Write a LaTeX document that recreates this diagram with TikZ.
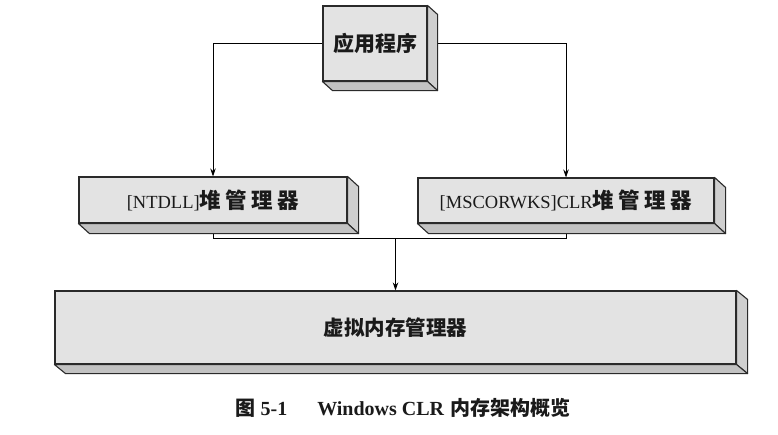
\documentclass[tikz,border=0pt]{standalone}
\usepackage{fontspec}
\setmainfont{Liberation Serif}
\newfontfamily\cjk{Noto Sans CJK SC}
\usetikzlibrary{arrows.meta}
\definecolor{edge}{HTML}{2A2A2A}
\definecolor{facecol}{HTML}{E3E3E3}
\definecolor{sidecol}{HTML}{CFCFCF}
\definecolor{botcol}{HTML}{C2C2C2}
\definecolor{txt}{HTML}{1A1A1A}
\newcommand\ks{\hspace{4.5pt}}
\newcommand\hz[1]{{\cjk\bfseries #1}}
\newcommand\boxsides[3]{%
  \filldraw[sideface] (#1.north east) -- ++(#2,#3) -- ([shift={(#2,#3)}]#1.south east) -- (#1.south east) -- cycle;
  \filldraw[bottomface] (#1.south west) -- ++(#2,#3) -- ([shift={(#2,#3)}]#1.south east) -- (#1.south east) -- cycle;
}
\tikzset{
  face/.style={draw=edge, fill=facecol, line width=1.1pt, inner sep=0pt, text=txt},
  sideface/.style={draw=edge, fill=sidecol, line width=1.1pt, line join=round},
  bottomface/.style={draw=edge, fill=botcol, line width=1.1pt, line join=round},
  conn/.style={draw=black, line width=0.9pt},
  arr/.style={conn, -{Stealth[length=8pt,width=5.5pt]}},
}
\begin{document}
\begin{tikzpicture}[x=1pt,y=-1pt]
\useasboundingbox (0,0) rectangle (778,434);
\fill[white] (0,0) rectangle (778,434);
% nodes (front faces)
\node[face, minimum width=104pt, minimum height=75pt, font=\fontsize{21}{24}\selectfont] (app) at (375,43.5) {\hz{应用程序}};
\node[face, minimum width=268pt, minimum height=46pt, font=\fontsize{18.5}{22}\selectfont] (ntdll) at (213,200) {[NTDLL]\hz{\fontsize{21.5}{24}\selectfont 堆\ks 管\ks 理\ks 器}};
\node[face, minimum width=296pt, minimum height=45pt, font=\fontsize{18.5}{22}\selectfont] (clr) at (566,200.5) {[MSCORWKS]CLR\hz{\fontsize{21.5}{24}\selectfont 堆\ks 管\ks 理\ks 器}};
\node[face, minimum width=681pt, minimum height=73pt, font=\fontsize{20.5}{24}\selectfont] (vm) at (395.5,327.5) {\hz{虚拟内存管理器}};
\path (vm.north) ++(0,-52) coordinate (j);
% connectors (drawn below the 3D faces)
\draw[arr] (app.west) -| (ntdll.north);
\draw[arr] (app.east) -| (clr.north);
\draw[conn] (ntdll.south) |- (j) -| (clr.south);
\draw[arr] (j) -- (vm.north);
% 3D sides
\boxsides{app}{10}{9}
\boxsides{ntdll}{11}{10}
\boxsides{clr}{11}{10}
\boxsides{vm}{11}{9}
% caption
\node[text=txt, font=\fontsize{20}{24}\selectfont] (cap) at (403,408)
  {\hz{图}\hspace{5pt}\textbf{5-1}\hspace{30pt}\textbf{Windows CLR}\hspace{6pt}\hz{内存架构概览}};
\end{tikzpicture}
\end{document}
